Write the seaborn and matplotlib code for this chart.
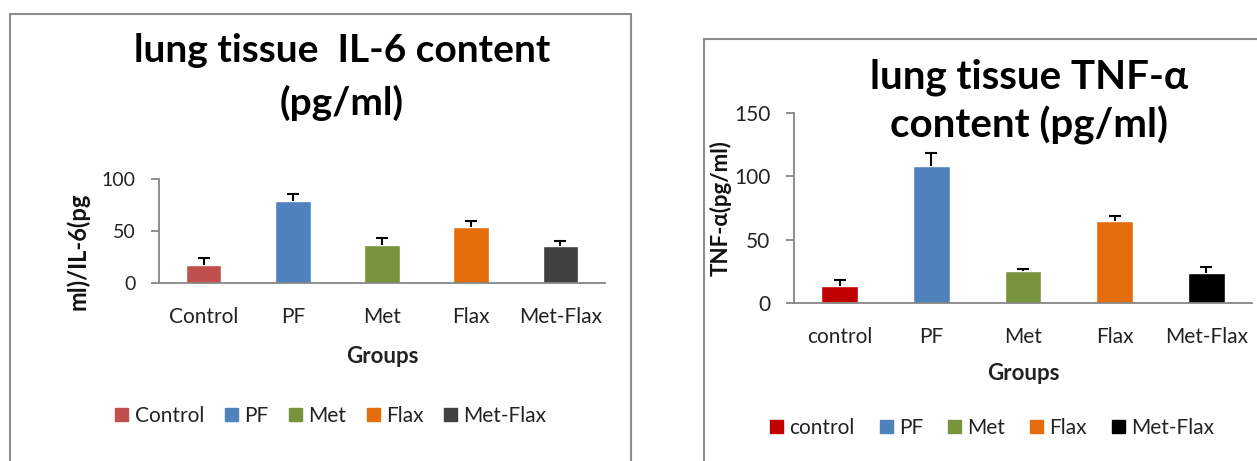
import numpy as np
import pandas as pd
import matplotlib
matplotlib.use("Agg")
import matplotlib.pyplot as plt
import matplotlib.patches as mpatches
import seaborn as sns

# data
groups_il6 = ['Control', 'PF', 'Met', 'Flax', 'Met-Flax']
il6_mean = [17, 79, 37, 54, 36]
il6_err = [7.5, 6.5, 6.5, 5.5, 4.5]
colors_il6 = ['#C0504D', '#4F81BD', '#77933C', '#E46C0A', '#404040']

groups_tnf = ['control', 'PF', 'Met', 'Flax', 'Met-Flax']
tnf_mean = [13.5, 108.5, 25.5, 64.5, 23.5]
tnf_err = [5, 10, 1.5, 4, 5]
colors_tnf = ['#C00000', '#4F81BD', '#77933C', '#E46C0A', '#000000']

sns.set_theme(style='white')
plt.rcParams['font.family'] = ['Lato', 'DejaVu Sans']

W, H = 1257, 461
fig = plt.figure(figsize=(W / 100, H / 100), dpi=100)
AX_GRAY = '#868686'


def fx(px):
    return px / W


def fy(py):
    return 1 - py / H


def bar_panel(rect, groups, means, errs, colors, ylim, yticks, ylabel, ylab_xy, ylab_size,
              ytick_size, xlab_y, xlab_size):
    ax = fig.add_axes(rect)
    df = pd.DataFrame({'group': groups, 'value': means})
    sns.barplot(data=df, x='group', y='value', hue='group', palette=colors,
                width=0.4, legend=False, ax=ax, order=groups, hue_order=groups,
                saturation=1)
    eb = ax.errorbar(np.arange(len(groups)), means, yerr=[np.zeros(len(errs)), errs],
                     fmt='none', ecolor='black', elinewidth=1.5, capsize=4,
                     capthick=1.5, zorder=5)
    eb[1][0].set_visible(False)
    ax.set_xlim(-0.5, len(groups) - 0.5)
    ax.set_ylim(*ylim)
    ax.set_yticks(yticks)
    ax.set_xticks(np.arange(len(groups)))
    ax.set_xticklabels(groups)
    ax.set_xticks(np.arange(len(groups) + 1) - 0.5, minor=True)
    for s in ['top', 'right']:
        ax.spines[s].set_visible(False)
    for s in ['left', 'bottom']:
        ax.spines[s].set_color(AX_GRAY)
        ax.spines[s].set_linewidth(1.3)
    ax.tick_params(axis='x', which='major', length=0, pad=17, labelsize=15, labelcolor='#222222')
    ax.tick_params(axis='x', which='minor', length=6, width=1.3, color=AX_GRAY, direction='out')
    ax.tick_params(axis='y', length=6, width=1.3, color=AX_GRAY, direction='out',
                   pad=11, labelsize=ytick_size, labelcolor='#222222', left=True)
    ax.set_xlabel('Groups', fontsize=xlab_size, fontweight='bold', color='#222222')
    ax.xaxis.set_label_coords(0.5, xlab_y)
    ax.xaxis.label.set_va('top')
    ax.set_ylabel('')
    fig.text(fx(ylab_xy[0]), fy(ylab_xy[1]), ylabel, rotation=90, ha='center', va='center',
             fontsize=ylab_size, fontweight='bold', color='#111111')
    return ax


# left panel: IL-6
ax1 = bar_panel([fx(159), fy(283), fx(605 - 159), (283 - 179) / H],
                groups_il6, il6_mean, il6_err, colors_il6, (0, 100), [0, 50, 100],
                'ml)/IL-6(pg', (78, 251), 17, 14, -(346 - 283) / 104, 16)
fig.text(fx(342), fy(62), 'lung tissue  IL-6 content', ha='center', va='baseline',
         fontsize=28, fontweight='bold', color='black')
fig.text(fx(342), fy(115), '(pg/ml)', ha='center', va='baseline',
         fontsize=28, fontweight='bold', color='black')
h1 = [mpatches.Patch(color=c) for c in colors_il6]
fig.legend(h1, groups_il6, loc='center', bbox_to_anchor=(fx(331), fy(416)), ncol=5,
           frameon=False, fontsize=15, handlelength=0.62, handleheight=0.62,
           handletextpad=0.3, columnspacing=1.0, labelcolor='#222222')

# right panel: TNF-alpha
ax2 = bar_panel([fx(794), fy(303), fx(1252 - 794), (303 - 113) / H],
                groups_tnf, tnf_mean, tnf_err, colors_tnf, (0, 150), [0, 50, 100, 150],
                'TNF-α(pg/ml)', (721, 208), 16, 15, -(363 - 303) / 190, 16)
fig.text(fx(1029), fy(89), 'lung tissue TNF-α', ha='center', va='baseline',
         fontsize=29, fontweight='bold', color='black')
fig.text(fx(1029), fy(137), 'content (pg/ml)', ha='center', va='baseline',
         fontsize=29, fontweight='bold', color='black')
h2 = [mpatches.Patch(color=c) for c in colors_tnf]
fig.legend(h2, groups_tnf, loc='center', bbox_to_anchor=(fx(992), fy(428)), ncol=5,
           frameon=False, fontsize=15, handlelength=0.62, handleheight=0.62,
           handletextpad=0.3, columnspacing=1.2, labelcolor='#222222')

# chart area borders
fig.add_artist(mpatches.Rectangle((fx(10), -0.1), fx(631 - 10), fy(14) + 0.1,
                                  transform=fig.transFigure, fill=False,
                                  edgecolor='#8c8c8c', lw=1.5))
fig.add_artist(mpatches.Rectangle((fx(704), -0.1), fx(1300 - 704), fy(39) + 0.1,
                                  transform=fig.transFigure, fill=False,
                                  edgecolor='#8c8c8c', lw=1.5))

fig.savefig('out.png', dpi=100)
